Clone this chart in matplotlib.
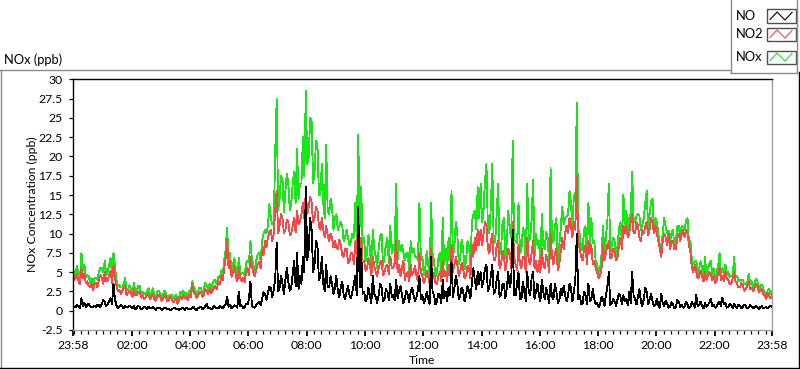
import matplotlib
matplotlib.use("Agg")
import matplotlib.pyplot as plt
import matplotlib.dates as mdates
from matplotlib.lines import Line2D
from matplotlib.patches import Rectangle
import pandas as pd

# readings every 3 minutes from 23:58, one row per hour (ppb)
no_ppb = [
    0.6, 0.4, 0.5, 0.7, 0.5, 0.3, 1.6, 0.6, 1.0, 0.5, 0.7, 0.9, 0.6, 0.4, 0.5, 0.6, 0.5, 0.8, 0.7, 0.5,
    0.9, 1.4, 1.1, 0.6, 0.8, 1.2, 1.6, 0.9, 3.5, 1.5, 0.7, 0.4, 0.5, 0.7, 0.6, 0.3, 0.6, 0.5, 0.5, 0.6,
    0.5, 0.3, 0.6, 0.2, 0.4, 0.6, 0.5, 0.2, 0.3, 0.5, 0.4, 0.2, 0.5, 0.3, 0.3, 0.5, 0.3, 0.1, 0.4, 0.3,
    0.3, 0.1, 0.2, 0.4, 0.4, 0.2, 0.3, 0.1, 0.2, 0.3, 0.4, 0.2, 0.3, 0.1, 0.2, 0.4, 0.3, 0.1, 0.4, 0.2,
    0.3, 0.2, 0.3, 0.5, 0.2, 0.1, 0.3, 0.4, 0.5, 0.2, 0.3, 0.6, 0.9, 0.3, 0.4, 0.2, 0.3, 0.6, 0.4, 0.3,
    0.3, 0.6, 0.5, 0.3, 0.6, 0.9, 1.8, 0.5, 0.8, 0.3, 0.5, 0.7, 0.6, 0.4, 2.5, 0.6, 0.7, 0.3, 0.5, 0.9,
    0.8, 1.5, 3.8, 0.6, 0.5, 0.4, 0.7, 1.0, 1.2, 0.7, 1.5, 2.4, 2.2, 1.4, 2.3, 3.1, 3.0, 1.8, 2.7, 4.2,
    8.8, 2.5, 3.0, 4.5, 3.5, 2.2, 4.0, 5.5, 3.8, 2.6, 3.0, 4.8, 6.5, 3.2, 7.5, 2.8, 4.5, 3.5, 7.0, 5.0,
    16.0, 6.5, 8.0, 12.0, 10.5, 5.0, 6.0, 9.0, 8.5, 4.0, 4.5, 7.0, 3.5, 2.5, 6.0, 3.0, 3.0, 4.5, 3.5, 2.2,
    3.0, 4.5, 2.5, 1.8, 3.0, 3.8, 2.0, 1.5, 2.5, 3.2, 2.0, 1.6, 2.5, 3.5, 4.5, 2.0, 13.5, 3.0, 8.0, 2.2,
    2.5, 1.2, 1.5, 3.0, 2.0, 1.0, 4.5, 2.2, 1.8, 1.0, 2.0, 3.5, 3.0, 1.2, 1.5, 2.8, 2.5, 1.4, 3.5, 1.8,
    2.0, 1.4, 4.0, 1.6, 2.5, 3.2, 2.0, 1.0, 1.5, 2.6, 2.0, 1.1, 2.5, 3.0, 2.0, 1.2, 1.8, 2.8, 4.5, 1.5,
    2.0, 1.0, 1.5, 2.5, 1.5, 0.9, 7.0, 2.5, 2.0, 0.8, 1.2, 2.2, 2.0, 1.0, 4.0, 1.6, 2.5, 1.3, 3.0, 2.0,
    6.5, 1.8, 3.0, 4.5, 3.5, 1.5, 2.0, 3.0, 2.5, 1.2, 2.0, 3.2, 2.5, 1.6, 3.5, 5.5, 4.0, 2.8, 5.0, 3.5,
    5.0, 3.0, 4.0, 5.5, 6.0, 2.5, 3.0, 4.5, 6.0, 2.2, 2.5, 4.0, 5.0, 1.8, 2.0, 3.5, 3.5, 1.6, 3.0, 5.0,
    3.0, 4.0, 10.5, 2.0, 2.0, 3.5, 5.0, 1.5, 1.5, 3.8, 2.5, 1.2, 5.0, 2.5, 2.0, 4.2, 5.0, 1.5, 2.5, 3.5,
    2.0, 1.2, 4.0, 2.5, 1.5, 3.0, 2.0, 1.0, 3.5, 1.8, 1.5, 3.5, 2.5, 1.0, 1.3, 2.8, 2.0, 3.2, 2.0, 1.2,
    2.0, 3.5, 3.0, 1.2, 2.5, 4.0, 10.0, 1.5, 2.0, 0.8, 1.0, 2.5, 2.0, 0.9, 3.5, 1.2, 1.5, 2.8, 1.5, 0.8,
    1.0, 0.5, 0.8, 1.8, 1.5, 0.6, 2.0, 3.2, 5.0, 0.7, 1.0, 1.5, 1.2, 0.6, 1.5, 2.2, 1.8, 0.8, 2.0, 1.2,
    1.5, 0.7, 2.5, 1.0, 5.0, 2.0, 1.5, 0.8, 1.8, 2.8, 1.2, 0.6, 1.5, 3.0, 2.5, 0.8, 1.5, 2.2, 1.2, 0.6,
    0.8, 1.5, 0.7, 0.4, 2.2, 1.0, 0.6, 1.3, 1.0, 0.4, 0.5, 1.1, 0.8, 0.3, 0.5, 1.4, 1.2, 0.5, 0.8, 0.4,
    0.6, 1.2, 0.8, 0.3, 0.5, 1.1, 0.8, 0.4, 2.0, 0.6, 0.7, 1.2, 0.6, 0.3, 1.0, 0.5, 0.7, 1.1, 1.5, 0.6,
    0.8, 0.4, 0.6, 1.0, 1.2, 0.6, 1.7, 0.8, 1.0, 0.4, 0.5, 0.9, 0.7, 0.3, 0.9, 0.5, 0.4, 0.8, 0.6, 0.3,
    0.5, 0.8, 0.6, 0.3, 0.4, 0.7, 0.5, 0.3, 0.5, 0.6, 0.4, 0.2, 0.5, 0.6, 0.3, 0.4, 0.5, 0.3, 0.5, 0.6,
    0.5,
]

no2_ppb = [
    5.0, 4.0, 4.2, 4.8, 3.8, 3.4, 5.5, 4.2, 4.8, 3.6, 3.8, 3.2, 3.0, 3.5, 2.7, 3.4, 3.6, 3.0, 4.0, 4.6,
    4.3, 3.5, 5.0, 3.8, 4.0, 4.6, 5.2, 3.6, 5.8, 4.2, 3.3, 2.6, 2.7, 2.2, 2.5, 2.9, 3.2, 2.0, 2.3, 2.6,
    2.2, 1.8, 2.8, 2.0, 2.0, 2.4, 2.5, 1.7, 2.0, 1.5, 1.7, 2.1, 2.2, 1.5, 1.8, 2.2, 1.5, 1.3, 1.8, 2.1,
    1.8, 1.3, 1.6, 2.0, 1.7, 1.2, 1.4, 1.8, 1.5, 1.1, 1.3, 1.6, 0.9, 1.4, 1.9, 1.5, 2.0, 1.6, 1.8, 1.4,
    2.1, 1.8, 3.5, 2.4, 2.2, 1.7, 1.9, 2.4, 2.4, 1.8, 2.1, 2.8, 2.6, 2.2, 2.9, 2.3, 2.6, 3.1, 3.2, 2.8,
    3.8, 3.4, 4.5, 4.0, 5.5, 6.8, 9.2, 5.5, 6.5, 4.4, 5.0, 5.8, 4.5, 3.8, 5.5, 4.2, 3.8, 4.3, 3.7, 5.0,
    5.5, 4.6, 7.0, 5.8, 5.0, 4.5, 5.3, 6.0, 6.3, 5.5, 8.0, 7.2, 9.0, 8.2, 9.5, 10.2, 10.5, 9.0, 10.0, 13.0,
    15.6, 10.0, 11.0, 12.5, 12.0, 10.0, 10.5, 11.8, 11.5, 9.8, 10.0, 11.0, 12.0, 10.2, 13.0, 11.2, 11.5, 12.5, 14.0, 12.0,
    15.5, 12.5, 13.5, 14.8, 14.0, 11.5, 12.0, 13.5, 13.0, 11.0, 10.5, 12.0, 10.5, 9.5, 11.0, 9.8, 9.0, 10.0, 9.5, 8.2,
    9.0, 8.2, 8.0, 9.2, 8.5, 7.2, 7.0, 8.0, 8.0, 6.2, 6.5, 7.5, 7.5, 6.0, 9.0, 7.0, 13.5, 8.0, 9.5, 6.5,
    6.5, 5.2, 5.5, 6.8, 6.0, 4.6, 7.0, 5.8, 5.0, 4.5, 5.5, 6.2, 6.5, 4.6, 5.0, 5.8, 6.0, 4.8, 7.0, 5.6,
    5.5, 6.2, 9.0, 5.0, 6.0, 4.5, 5.5, 6.5, 4.0, 4.8, 5.0, 3.8, 6.0, 4.6, 5.0, 5.8, 4.5, 3.8, 7.5, 5.0,
    4.5, 3.6, 4.0, 5.2, 4.5, 3.5, 8.0, 5.0, 4.5, 3.6, 3.5, 4.5, 5.0, 3.8, 6.5, 4.5, 5.0, 3.8, 6.0, 4.6,
    8.5, 5.0, 6.0, 7.0, 6.0, 4.5, 5.0, 6.2, 5.5, 4.2, 4.5, 5.8, 5.5, 4.2, 8.5, 7.0, 9.5, 7.8, 10.5, 8.5,
    10.5, 8.5, 10.0, 11.5, 11.0, 8.0, 7.5, 9.0, 10.0, 6.5, 6.5, 8.5, 9.0, 5.5, 6.0, 7.8, 7.0, 5.2, 6.5, 8.0,
    7.5, 5.5, 11.5, 7.0, 6.0, 5.2, 8.5, 6.0, 5.5, 7.0, 7.0, 5.0, 9.5, 6.5, 6.0, 7.5, 9.0, 5.5, 6.5, 5.0,
    6.5, 5.0, 8.0, 6.0, 5.5, 7.2, 6.5, 5.0, 10.0, 7.0, 6.0, 7.5, 8.0, 5.2, 6.0, 7.8, 9.5, 8.0, 10.0, 11.0,
    10.0, 12.0, 11.0, 9.5, 11.5, 10.5, 17.5, 9.0, 8.0, 7.0, 6.5, 8.0, 8.5, 6.0, 9.0, 7.5, 8.5, 6.0, 6.5, 5.5,
    5.0, 4.2, 4.5, 5.5, 8.5, 6.5, 7.5, 8.5, 9.0, 6.8, 7.0, 8.0, 7.5, 6.5, 7.0, 8.5, 9.5, 8.0, 11.0, 10.0,
    11.0, 9.5, 10.0, 11.5, 12.5, 10.0, 10.0, 11.5, 11.0, 9.5, 9.0, 10.5, 10.0, 11.0, 11.5, 9.8, 10.5, 12.0, 11.5, 10.0,
    11.0, 10.0, 9.0, 8.0, 7.0, 9.0, 10.0, 9.5, 8.5, 10.0, 8.0, 9.0, 9.0, 8.0, 8.0, 9.5, 10.0, 9.0, 10.0, 10.5,
    9.5, 10.5, 10.0, 8.5, 7.5, 5.5, 5.0, 6.0, 5.0, 4.2, 4.5, 5.2, 4.5, 3.8, 5.0, 4.0, 4.5, 5.0, 4.8, 4.0,
    4.5, 3.6, 4.0, 4.8, 5.5, 4.0, 4.5, 3.8, 5.0, 4.2, 4.0, 3.4, 3.5, 4.2, 5.0, 3.8, 3.5, 3.0, 3.0, 3.6,
    3.2, 2.6, 2.8, 3.3, 3.8, 2.8, 3.0, 2.5, 3.0, 3.5, 3.2, 2.4, 2.6, 2.8, 2.2, 1.9, 1.5, 2.3, 2.0, 1.6,
    2.0,
]

nox_ppb = [
    6.0, 4.6, 5.0, 5.8, 4.5, 4.0, 7.5, 5.2, 6.0, 4.3, 4.6, 4.5, 3.6, 4.2, 3.2, 4.3, 4.2, 4.0, 5.0, 5.6,
    5.5, 5.0, 6.5, 4.6, 5.0, 6.0, 6.8, 4.8, 7.5, 5.8, 4.0, 3.2, 3.3, 3.0, 3.0, 3.4, 4.2, 2.7, 2.8, 3.3,
    2.8, 2.3, 3.6, 2.4, 2.6, 3.2, 3.2, 2.1, 2.5, 2.2, 2.2, 2.5, 2.9, 2.0, 2.3, 2.9, 2.0, 1.6, 2.4, 2.6,
    2.3, 1.6, 2.0, 2.6, 2.2, 1.6, 1.8, 2.1, 2.0, 1.6, 1.8, 2.0, 1.5, 1.7, 2.5, 2.1, 2.6, 1.9, 2.3, 1.8,
    2.6, 2.2, 3.8, 3.1, 2.8, 2.0, 2.5, 3.0, 3.0, 2.3, 2.7, 3.6, 3.2, 2.8, 3.5, 2.8, 3.4, 4.0, 3.9, 3.4,
    4.4, 4.2, 5.2, 4.6, 6.5, 8.0, 10.8, 6.3, 7.5, 5.0, 6.0, 6.8, 5.5, 4.5, 6.8, 5.0, 4.8, 4.9, 4.5, 6.2,
    6.5, 6.3, 9.0, 6.7, 6.0, 5.2, 6.5, 7.4, 7.5, 6.5, 9.0, 10.0, 10.5, 10.0, 11.0, 13.8, 12.0, 11.2, 11.5, 20.5,
    27.4, 13.0, 14.5, 17.5, 17.0, 12.8, 15.5, 17.8, 16.5, 13.0, 14.0, 16.5, 18.0, 14.0, 21.0, 14.5, 16.5, 16.5, 22.5, 17.5,
    28.5, 19.0, 20.0, 25.0, 24.5, 16.5, 18.0, 22.0, 21.5, 15.0, 15.0, 19.0, 14.0, 12.0, 21.5, 13.0, 12.5, 14.5, 13.5, 10.5,
    12.0, 12.5, 10.5, 11.0, 11.5, 11.0, 9.0, 9.5, 10.5, 9.4, 8.5, 9.0, 10.0, 9.5, 14.0, 9.0, 22.8, 11.0, 16.0, 8.7,
    9.5, 6.4, 7.5, 9.8, 8.0, 5.6, 10.5, 8.0, 7.0, 5.5, 8.0, 9.7, 10.0, 5.8, 7.0, 8.6, 9.5, 6.2, 11.0, 7.4,
    8.5, 7.6, 16.5, 6.6, 9.0, 7.7, 8.5, 7.5, 6.5, 7.4, 7.5, 5.0, 9.0, 7.6, 8.0, 7.0, 7.0, 6.6, 14.0, 6.5,
    7.0, 4.6, 5.5, 7.7, 6.0, 4.4, 14.0, 7.5, 6.5, 4.4, 5.0, 6.7, 7.5, 4.8, 12.0, 6.1, 8.0, 5.1, 9.5, 6.6,
    15.5, 6.8, 8.5, 11.5, 10.0, 6.0, 7.0, 9.2, 8.0, 5.4, 6.5, 9.0, 8.5, 5.8, 11.5, 12.5, 13.0, 10.6, 16.0, 12.0,
    16.5, 11.5, 13.0, 17.0, 19.0, 10.5, 10.0, 13.5, 19.0, 8.7, 9.0, 12.5, 16.5, 7.3, 8.0, 11.3, 12.0, 6.8, 9.0, 13.0,
    10.5, 9.5, 22.0, 9.0, 9.0, 8.7, 14.0, 7.5, 8.0, 10.8, 10.0, 6.2, 16.5, 9.0, 9.5, 11.7, 17.0, 7.0, 10.0, 8.5,
    9.0, 6.2, 12.5, 8.5, 8.0, 10.2, 9.5, 6.0, 18.5, 8.8, 9.0, 11.0, 12.0, 6.2, 8.5, 10.6, 13.5, 11.2, 12.0, 12.2,
    12.5, 15.5, 14.0, 10.7, 15.0, 14.5, 27.0, 10.5, 10.0, 7.8, 8.0, 10.5, 11.0, 6.9, 14.0, 8.7, 12.0, 8.8, 9.0, 6.3,
    6.0, 4.7, 5.5, 7.3, 11.0, 7.1, 9.5, 11.7, 16.5, 7.5, 8.5, 9.5, 9.0, 7.1, 8.5, 10.7, 11.5, 8.8, 15.0, 11.2,
    13.0, 10.2, 12.0, 12.5, 18.0, 12.0, 11.5, 12.3, 12.5, 12.3, 10.5, 11.1, 12.0, 14.0, 15.5, 10.6, 12.5, 14.2, 14.5, 10.6,
    12.0, 11.5, 10.0, 8.4, 8.0, 10.0, 12.0, 10.8, 10.0, 10.4, 9.0, 10.1, 10.5, 8.3, 9.0, 10.9, 11.0, 9.5, 11.0, 10.9,
    10.5, 11.7, 12.0, 8.8, 9.0, 6.6, 6.0, 6.4, 6.5, 4.8, 5.5, 6.4, 5.5, 4.1, 7.0, 4.5, 5.5, 6.1, 6.5, 4.6,
    5.5, 4.0, 5.0, 5.8, 7.5, 4.6, 5.5, 4.6, 6.0, 4.6, 5.0, 4.3, 4.5, 4.5, 7.0, 4.3, 4.5, 3.8, 4.0, 3.9,
    4.0, 3.4, 3.5, 3.6, 4.8, 3.5, 3.8, 2.8, 3.6, 4.1, 3.8, 2.6, 3.2, 3.4, 2.8, 2.3, 2.2, 2.6, 2.8, 2.2,
    2.5,
]

series_names = ["NO", "NO2", "NOx"]
series_colors = ["black", "#ff4646", "#16e816"]
y_ticks = [-2.5, 0, 2.5, 5, 7.5, 10, 12.5, 15, 17.5, 20, 22.5, 25, 27.5, 30]

plt.rcParams["font.family"] = ["Lato", "DejaVu Sans"]
plt.rcParams["font.size"] = 8.8

W, H = 800, 369
fig = plt.figure(figsize=(W / 100, H / 100), dpi=100)
ax = fig.add_axes([72.7 / W, 1 - 330 / H, (772 - 72.7) / W, (330 - 79.3) / H])

times = pd.date_range("2021-03-01 23:58", periods=len(no_ppb), freq="3min")
ax.plot(times, nox_ppb, color=series_colors[2], lw=0.6, antialiased=False)
ax.plot(times, no2_ppb, color=series_colors[1], lw=0.6, antialiased=False)
ax.plot(times, no_ppb, color=series_colors[0], lw=0.6, antialiased=False)

start, end = times[0], times[-1]
ax.set_xlim(start, end)
ax.set_ylim(-2.5, 30)

majors = [start] + list(pd.date_range("2021-03-02 02:00", "2021-03-02 22:00", freq="2h")) + [end]
ax.set_xticks([mdates.date2num(t) for t in majors])
ax.set_xticklabels([t.strftime("%H:%M") for t in majors])
ax.xaxis.set_minor_locator(mdates.MinuteLocator(byminute=[0, 15, 30, 45]))
ax.set_yticks(y_ticks)
ax.set_yticklabels([f"{v:g}" for v in y_ticks])

ax.tick_params(axis="x", which="major", length=4, width=1.3, pad=3)
ax.tick_params(axis="x", which="minor", length=3, width=0.9)
ax.tick_params(axis="y", which="major", length=3.2, width=0.9, pad=4)
ax.set_ylabel("NOx Concentration (ppb)", labelpad=0.5)
ax.set_xlabel("Time", labelpad=3)

for side, col in [("left", "black"), ("top", "black"), ("right", "#a0a0a0"), ("bottom", "#a0a0a0")]:
    ax.spines[side].set_color(col)
    ax.spines[side].set_linewidth(1.0)


def px(x, y):
    return x / W, 1 - y / H


def fig_line(x0, y0, x1, y1, color):
    (a, b), (c, d) = px(x0, y0), px(x1, y1)
    fig.add_artist(Line2D([a, c], [b, d], color=color, lw=1.0, transform=fig.transFigure))


# panel frame and legend box
fig_line(0, 69.5, 730.5, 69.5, "#8a8a8a")
fig_line(0.5, 69.5, 0.5, 368, "#8a8a8a")
fig_line(0, 367.5, 799, 367.5, "black")
fig_line(798.5, 72, 798.5, 368, "black")
fig_line(730.5, 0, 730.5, 72.5, "#8a8a8a")
fig_line(730.5, 72.5, 797, 72.5, "#8a8a8a")
fig_line(796.5, 0, 796.5, 72.5, "#8a8a8a")

fig.text(*px(4, 59.5), "NOx (ppb)", ha="left", va="center", fontsize=9.3)

for name, col, yc in zip(series_names, series_colors, [16, 34, 57]):
    fig.text(*px(736, yc), name, ha="left", va="center", fontsize=9.3)
    x0, y0 = px(767, yc + 6.5)
    x1, y1 = px(795.5, yc - 6.5)
    fig.add_artist(Rectangle((x0, y0), x1 - x0, y1 - y0, transform=fig.transFigure,
                             fill=False, edgecolor="#505050", lw=1.0))
    zx = [770, 777, 785, 792]
    zy = [yc + 3.5, yc - 4, yc + 4, yc - 3.5]
    pts = [px(a, b) for a, b in zip(zx, zy)]
    fig.add_artist(Line2D([p[0] for p in pts], [p[1] for p in pts], color=col, lw=0.8,
                          transform=fig.transFigure))

fig.savefig("out.png", dpi=100)
